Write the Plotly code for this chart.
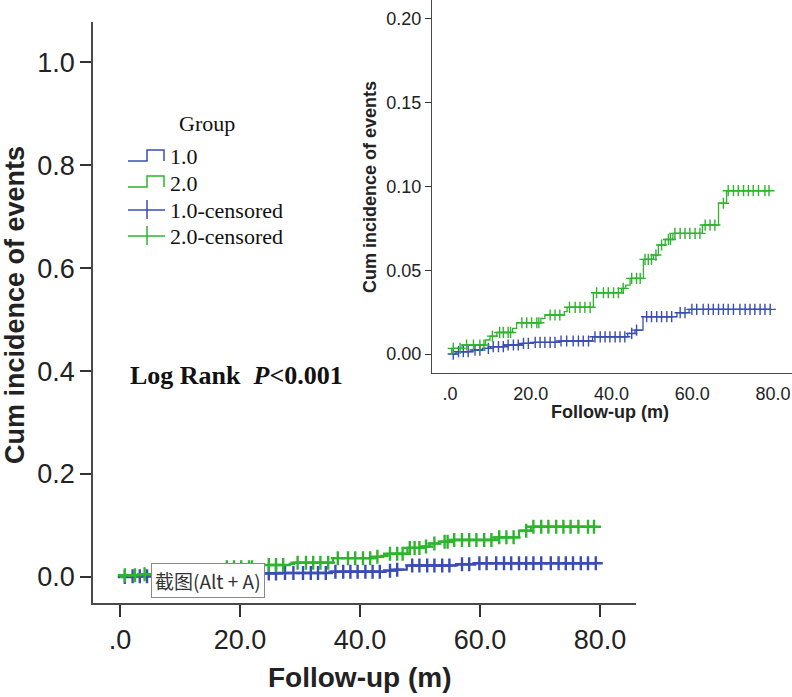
import plotly.graph_objects as go

W, H = 792, 697

# step curves (months, cumulative incidence)
g1_time = [0, 1.5, 5.5, 8.0, 10.0, 13.5, 17.8, 20.5, 27.0, 35.3, 44.0, 45.8, 47.8, 56.2, 59.2, 79.5]
g1_cum = [0, 0.0014, 0.0024, 0.0034, 0.0044, 0.0054, 0.0064, 0.0070, 0.0078, 0.0103,
          0.0123, 0.0143, 0.0223, 0.0247, 0.0267, 0.0267]

g2_time = [0, 0.4, 3.0, 8.8, 9.9, 11.6, 15.5, 16.5, 22.5, 23.5, 28.3, 29.0, 35.5, 42.5, 43.5,
           44.6, 47.9, 50.4, 51.6, 53.3, 55.2, 62.5, 66.5, 68.5, 79.0]
g2_cum = [0, 0.0034, 0.0054, 0.0084, 0.0107, 0.0129, 0.0153, 0.0187, 0.0213, 0.0233, 0.0253,
          0.0279, 0.0366, 0.0392, 0.0412, 0.0452, 0.0565, 0.0591, 0.0651, 0.0684, 0.0720,
          0.0770, 0.0900, 0.0975, 0.0975]

# censoring times
g1_cens = [0.8, 2.1, 3.3, 4.5, 6.2, 7.4, 9.5, 10.7, 12.0, 13.2, 14.4, 15.7, 16.9, 18.2, 19.4,
           21.1, 22.3, 23.5, 24.8, 26.0, 27.5, 28.9, 30.5, 31.8, 33.0, 34.3, 35.9, 37.2, 38.4,
           39.6, 40.9, 42.1, 43.3, 45.0, 46.2, 48.7, 49.9, 51.2, 52.4, 53.7, 54.9, 57.0, 58.2,
           59.9, 61.1, 62.7, 64.0, 65.2, 66.5, 67.7, 68.9, 70.2, 71.8, 73.1, 74.3, 75.5, 76.8,
           78.0, 79.3]
g2_cens = [0.8, 2.5, 4.1, 5.8, 7.4, 8.4, 10.5, 12.3, 13.2, 14.4, 15.0, 17.8, 19.0, 20.2, 21.5,
           22.0, 24.8, 26.0, 27.2, 29.6, 31.0, 32.2, 33.4, 34.7, 36.3, 38.0, 39.2, 40.5, 41.7,
           42.9, 45.0, 46.2, 47.1, 48.3, 49.1, 49.9, 51.0, 52.4, 54.1, 54.6, 55.7, 57.0, 58.2,
           59.4, 60.7, 61.9, 63.2, 64.4, 65.6, 67.7, 68.9, 70.2, 71.4, 72.7, 73.9, 75.1, 76.4,
           78.0, 79.0]

main_yticks = [0.0, 0.2, 0.4, 0.6, 0.8, 1.0]
inset_yticks = [0.0, 0.05, 0.10, 0.15, 0.20]
xticks = [0, 20, 40, 60, 80]
xtick_text = [".0", "20.0", "40.0", "60.0", "80.0"]

BLUE = "#3a4db3"
GREEN = "#2db52d"
AX = "#4a4a4a"


def step_at(times, vals, t):
    v = vals[0]
    for tt, vv in zip(times, vals):
        if tt <= t:
            v = vv
    return v


def px(x):
    return x / W


def py(y):
    return (H - y) / H


fig = go.Figure()

for xa, ya, lw, ms, mw in [("x", "y", 2.2, 10, 2.4), ("x2", "y2", 1.3, 8, 1.4)]:
    for t, c, cens, col in [(g1_time, g1_cum, g1_cens, BLUE), (g2_time, g2_cum, g2_cens, GREEN)]:
        fig.add_trace(go.Scatter(x=t, y=c, mode="lines", line=dict(color=col, width=lw, shape="hv"),
                                 xaxis=xa, yaxis=ya, hoverinfo="skip"))
        fig.add_trace(go.Scatter(x=cens, y=[step_at(t, c, v) for v in cens], mode="markers",
                                 marker=dict(symbol="cross-thin", size=ms, line=dict(color=col, width=mw)),
                                 xaxis=xa, yaxis=ya, hoverinfo="skip"))

fig.update_layout(
    width=W, height=H, margin=dict(l=0, r=0, t=0, b=0),
    paper_bgcolor="white", plot_bgcolor="rgba(0,0,0,0)", showlegend=False,
    font=dict(family="Liberation Sans, Arial", color="#222"),
    xaxis=dict(domain=[px(93), px(636)], range=[-4.5, 86], showgrid=False, zeroline=False,
               showline=True, linecolor=AX, linewidth=1.5, ticks="outside", ticklen=12, tickwidth=2,
               tickcolor="#333", tickvals=xticks, ticktext=xtick_text, tickfont=dict(size=27)),
    yaxis=dict(domain=[py(603), py(22)], range=[-0.0505, 1.078], showgrid=False, zeroline=False,
               showline=True, linecolor=AX, linewidth=1.5, ticks="outside", ticklen=11, tickwidth=1.5,
               tickcolor="#333", tickvals=main_yticks, tickformat=".1f", tickfont=dict(size=27)),
    xaxis2=dict(domain=[px(432), 1.0], range=[-4.46, 84.7], anchor="y2", showgrid=False, zeroline=False,
                showline=True, linecolor=AX, linewidth=1.2, ticks="", tickvals=xticks,
                ticktext=xtick_text, tickfont=dict(size=18), ticklabelstandoff=4),
    yaxis2=dict(domain=[py(373), 1.0], range=[-0.0113, 0.2113], anchor="x2", showgrid=False,
                zeroline=False, showline=True, linecolor=AX, linewidth=1.2, ticks="outside", ticklen=6,
                tickcolor="#333", tickvals=inset_yticks, tickformat=".2f", tickfont=dict(size=18)),
)

ann = [
    dict(x=px(15), y=py(305), text="<b>Cum incidence of events</b>", textangle=-90, font=dict(size=27)),
    dict(x=px(360), y=py(677), text="<b>Follow-up (m)</b>", font=dict(size=28)),
    dict(x=px(370), y=py(187), text="<b>Cum incidence of events</b>", textangle=-90, font=dict(size=18)),
    dict(x=px(610), y=py(412), text="<b>Follow-up (m)</b>", font=dict(size=18)),
    dict(x=px(207), y=py(124), text="Group", font=dict(family="Liberation Serif", size=22, color="#111")),
    dict(x=px(128), y=py(375), xanchor="left",
         text="<b>Log Rank  <i>P</i>&lt;0.001</b>", font=dict(family="Liberation Serif", size=26, color="#111")),
    dict(x=px(207.5), y=py(580), text="截图(Alt + A)", bgcolor="white", bordercolor="#8a8a8a",
         borderwidth=1, borderpad=3, font=dict(family="Noto Sans CJK SC", size=19, color="#333")),
]
leg_labels = ["1.0", "2.0", "1.0-censored", "2.0-censored"]
leg_y = [157, 183, 210, 236]
leg_col = [BLUE, GREEN, BLUE, GREEN]
shapes = []
for i, (lab, yy, col) in enumerate(zip(leg_labels, leg_y, leg_col)):
    ann.append(dict(x=px(168), y=py(yy), xanchor="left", text=lab,
                    font=dict(family="Liberation Serif", size=22, color="#111")))
    if i < 2:
        path = (f"M {px(128)},{py(yy + 4)} L {px(147)},{py(yy + 4)} L {px(147)},{py(yy - 7)} "
                f"L {px(164)},{py(yy - 7)} L {px(164)},{py(yy + 4)}")
        shapes.append(dict(type="path", xref="paper", yref="paper", path=path,
                           line=dict(color=col, width=1.5)))
    else:
        shapes.append(dict(type="line", xref="paper", yref="paper", x0=px(128), x1=px(165),
                           y0=py(yy), y1=py(yy), line=dict(color=col, width=1.5)))
        shapes.append(dict(type="line", xref="paper", yref="paper", x0=px(147), x1=px(147),
                           y0=py(yy - 10), y1=py(yy + 9), line=dict(color=col, width=1.5)))
for a in ann:
    a.setdefault("xref", "paper")
    a.setdefault("yref", "paper")
    a.setdefault("xanchor", "center")
    a.setdefault("yanchor", "middle")
    a.setdefault("showarrow", False)
fig.update_layout(annotations=ann, shapes=shapes)

fig.write_html("out.html", config={"displayModeBar": False},
               post_script="document.body.style.margin='0';")
